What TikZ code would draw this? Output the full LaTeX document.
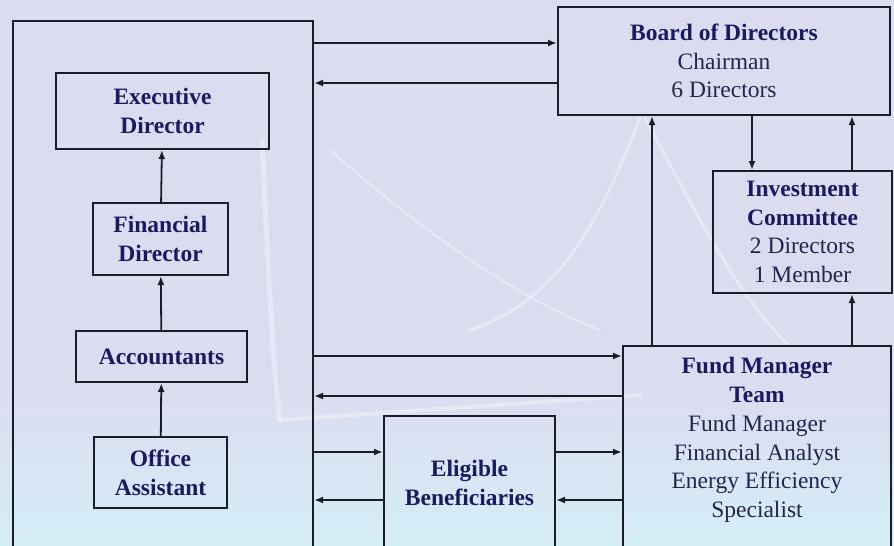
\documentclass[tikz,border=0pt]{standalone}
\usepackage{fontspec}
\setmainfont{Liberation Serif}
\usetikzlibrary{arrows.meta}
\definecolor{bgLav}{HTML}{DCDCF0}
\definecolor{bgSky}{HTML}{D4EEF8}
\definecolor{frameInk}{HTML}{1C1C28}
\definecolor{headInk}{HTML}{1A1A62}
\definecolor{bodyInk}{HTML}{25254C}
\newcommand{\plainline}[1]{\textcolor{bodyInk}{\mdseries #1}}
\begin{document}
\begin{tikzpicture}[x=1pt,y=-1pt,
  unit/.style={draw=frameInk, line width=2pt, rectangle, inner sep=0pt,
    align=center, text=headInk,
    font=\fontsize{23.5}{28.8}\selectfont\bfseries},
  txt/.style={inner sep=0pt, align=center, text=headInk,
    font=\fontsize{23.5}{28.8}\selectfont\bfseries},
  flow/.style={draw=frameInk, line width=1.8pt,
    -{Latex[length=9pt,width=7pt]}},
  glow/.style={draw=white, line cap=round, opacity=0.35}
]
\useasboundingbox (0,0) rectangle (894,546);
\clip (0,0) rectangle (894,546);

% backdrop
\fill[bgLav] (0,0) rectangle (894,546);
\shade[top color=bgLav, bottom color=bgSky] (0,390) rectangle (894,546);
\draw[glow, line width=5pt] (262,140) .. controls (268,260) and (272,360) .. (280,420);
\draw[glow, line width=4pt] (280,420) -- (640,395);
\draw[glow, line width=3pt] (640,118) .. controls (600,220) and (560,300) .. (470,330);
\draw[glow, line width=3pt] (645,118) .. controls (700,220) and (740,300) .. (790,346);
\draw[glow, line width=2pt] (330,150) .. controls (420,230) and (520,300) .. (600,330);

% office staff column
\node[draw=frameInk, line width=2pt, rectangle, minimum width=300pt,
  minimum height=560pt, inner sep=0pt] (office) at (163,301) {};
\node[unit, minimum width=213pt, minimum height=76pt] (exec) at (162.5,111) {Executive\\Director};
\node[unit, minimum width=135pt, minimum height=72pt] (fin) at (160.5,239) {Financial\\Director};
\node[unit, minimum width=171pt, minimum height=51pt] (acc) at (161.5,356.5) {Accountants};
\node[unit, minimum width=133pt, minimum height=71pt] (assist) at (160.5,472.5) {Office\\Assistant};

% governance and operations
\node[unit, minimum width=332pt, minimum height=108pt] (board) at (724,61)
  {Board of Directors\\\plainline{Chairman}\\\plainline{6 Directors}};
\node[unit, minimum width=179pt, minimum height=122pt] (invest) at (802.5,232)
  {Investment\\Committee\\\plainline{2 Directors}\\\plainline{1 Member}};
\node[draw=frameInk, line width=2pt, rectangle, minimum width=268pt,
  minimum height=230pt, inner sep=0pt] (fund) at (757,461) {};
\node[txt] (fundtext) at (757,440)
  {Fund Manager\\Team\\\plainline{Fund Manager}\\\plainline{Financial Analyst}\\\plainline{Energy Efficiency}\\\plainline{Specialist}};
\node[draw=frameInk, line width=2pt, rectangle, minimum width=171pt,
  minimum height=160pt, inner sep=0pt] (benef) at (469.5,496) {};
\node[txt] (beneftext) at (469.5,483) {Eligible\\Beneficiaries};

% reporting lines inside the office
\draw[flow] (assist) -- (acc);
\draw[flow] (acc) -- (fin);
\draw[flow] (fin) -- (exec);

% exchanges between the units
\draw[flow] (office.east |- 0,43) -- (board.west |- 0,43);
\draw[flow] (board.west |- 0,83) -- (office.east |- 0,83);
\draw[flow] (board.south -| 752,0) -- (invest.north -| 752,0);
\draw[flow] (invest.north -| 852,0) -- (board.south -| 852,0);
\draw[flow] (fund.north -| 852,0) -- (invest.south -| 852,0);
\draw[flow] (fund.north -| 652,0) -- (board.south -| 652,0);
\draw[flow] (office.east |- 0,356) -- (fund.west |- 0,356);
\draw[flow] (fund.west |- 0,396) -- (office.east |- 0,396);
\draw[flow] (office.east |- 0,452) -- (benef.west |- 0,452);
\draw[flow] (benef.west |- 0,500) -- (office.east |- 0,500);
\draw[flow] (benef.east |- 0,452) -- (fund.west |- 0,452);
\draw[flow] (fund.west |- 0,500) -- (benef.east |- 0,500);
\end{tikzpicture}
\end{document}
